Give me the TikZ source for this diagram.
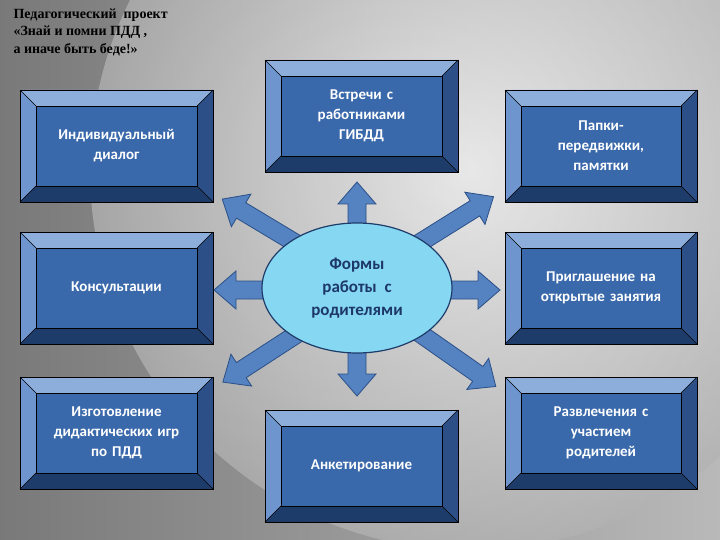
\documentclass[tikz,border=0pt]{standalone}
\usepackage{fontspec}
\setmainfont{Carlito}
\newfontfamily\titlefont{Liberation Serif}
\usetikzlibrary{calc,shapes}

\definecolor{bevtop}{HTML}{8DAEDB}
\definecolor{bevleft}{HTML}{6E95CD}
\definecolor{bevbot}{HTML}{1E3C6A}
\definecolor{bevright}{HTML}{2B4F86}
\definecolor{boxface}{HTML}{3A69AB}
\definecolor{arrowfill}{HTML}{5583C2}
\definecolor{ovalfill}{HTML}{86D8F2}
\definecolor{ovaltext}{HTML}{1C3768}

\tikzset{
  facetext/.style={text=white, font=\fontsize{15}{20}\selectfont\bfseries, align=center, text width=155pt},
  blockarrow/.style={fill=arrowfill, draw=bevright, line width=0.8pt}
}

% bevelled box: name, x1, y1, x2, y2, text
\newcommand{\bevelbox}[6]{
  \fill[bevtop] (#2,#3) -- (#4,#3) -- (#4-16,#3+16) -- (#2+16,#3+16) -- cycle;
  \fill[bevleft] (#2,#3) -- (#2+16,#3+16) -- (#2+16,#5-16) -- (#2,#5) -- cycle;
  \fill[bevbot] (#2,#5) -- (#2+16,#5-16) -- (#4-16,#5-16) -- (#4,#5) -- cycle;
  \fill[bevright] (#4,#3) -- (#4,#5) -- (#4-16,#5-16) -- (#4-16,#3+16) -- cycle;
  \draw[black, line width=0.6pt] (#2,#3) rectangle (#4,#5);
  \draw[black, line width=0.4pt] (#2,#3) -- (#2+16,#3+16) (#4,#3) -- (#4-16,#3+16)
    (#2,#5) -- (#2+16,#5-16) (#4,#5) -- (#4-16,#5-16);
  \draw[black, fill=boxface, line width=0.6pt] (#2+16,#3+16) rectangle (#4-16,#5-16);
  \node[facetext] (#1) at ({(#2+#4)/2},{(#3+#5)/2}) {#6};
}

% block arrow: x, y, angle, length
\newcommand{\ap}[2]{({\ax+(#1)*cos(\aa)-(#2)*sin(\aa)},{\ay+(#1)*sin(\aa)+(#2)*cos(\aa)})}
\newcommand{\blockarr}[4]{
  \def\ax{#1}\def\ay{#2}\def\aa{#3}
  \draw[blockarrow] \ap{0}{-9} -- \ap{#4-22}{-9} -- \ap{#4-22}{-19} -- \ap{#4}{0}
    -- \ap{#4-22}{19} -- \ap{#4-22}{9} -- \ap{0}{9} -- cycle;
}

\begin{document}
\begin{tikzpicture}[x=1pt,y=-1pt]
  \useasboundingbox (0,0) rectangle (720,540);
  \shade[left color=gray!95!black, right color=gray!55] (0,0) rectangle (720,540);
  \begin{scope}[opacity=0.75]
    \shade[inner color=white, outer color=gray!60] (470,170) circle (380);
  \end{scope}

  \node[anchor=north west, align=left, font=\titlefont\fontsize{14}{17.5}\selectfont\bfseries] (title) at (10,5)
    {Педагогический\ \ проект\\«Знай и помни ПДД ,\\а иначе быть беде!»};

  \bevelbox{dialog}{20}{90}{213}{202}{Индивидуальный\\диалог}
  \bevelbox{meet}{265}{60}{458}{172}{Встречи с\\работниками\\ГИБДД}
  \bevelbox{folders}{505}{90}{697}{202}{Папки-\\передвижки,\\памятки}
  \bevelbox{consult}{20}{232}{213}{344}{Консультации}
  \bevelbox{invite}{505}{232}{697}{344}{Приглашение на\\открытые занятия}
  \bevelbox{games}{20}{377}{213}{489}{Изготовление\\дидактических игр\\по ПДД}
  \bevelbox{survey}{265}{410}{458}{522}{Анкетирование}
  \bevelbox{fun}{505}{377}{697}{489}{Развлечения с\\участием\\родителей}

  \blockarr{357}{230}{270}{48}
  \blockarr{302}{247}{211}{93}
  \blockarr{413}{247}{328}{95}
  \blockarr{266}{290}{180}{52}
  \blockarr{450}{290}{0}{50}
  \blockarr{300}{332}{147}{92}
  \blockarr{357}{350}{90}{46}
  \blockarr{418}{332}{35}{95}

  \node[ellipse, minimum width=190pt, minimum height=130pt, fill=ovalfill, draw=bevbot, line width=1.2pt,
    text=ovaltext, align=center, font=\fontsize{17}{23}\selectfont\bfseries] (forms) at (357,288)
    {Формы\\работы\ \ с\\родителями};
\end{tikzpicture}
\end{document}
